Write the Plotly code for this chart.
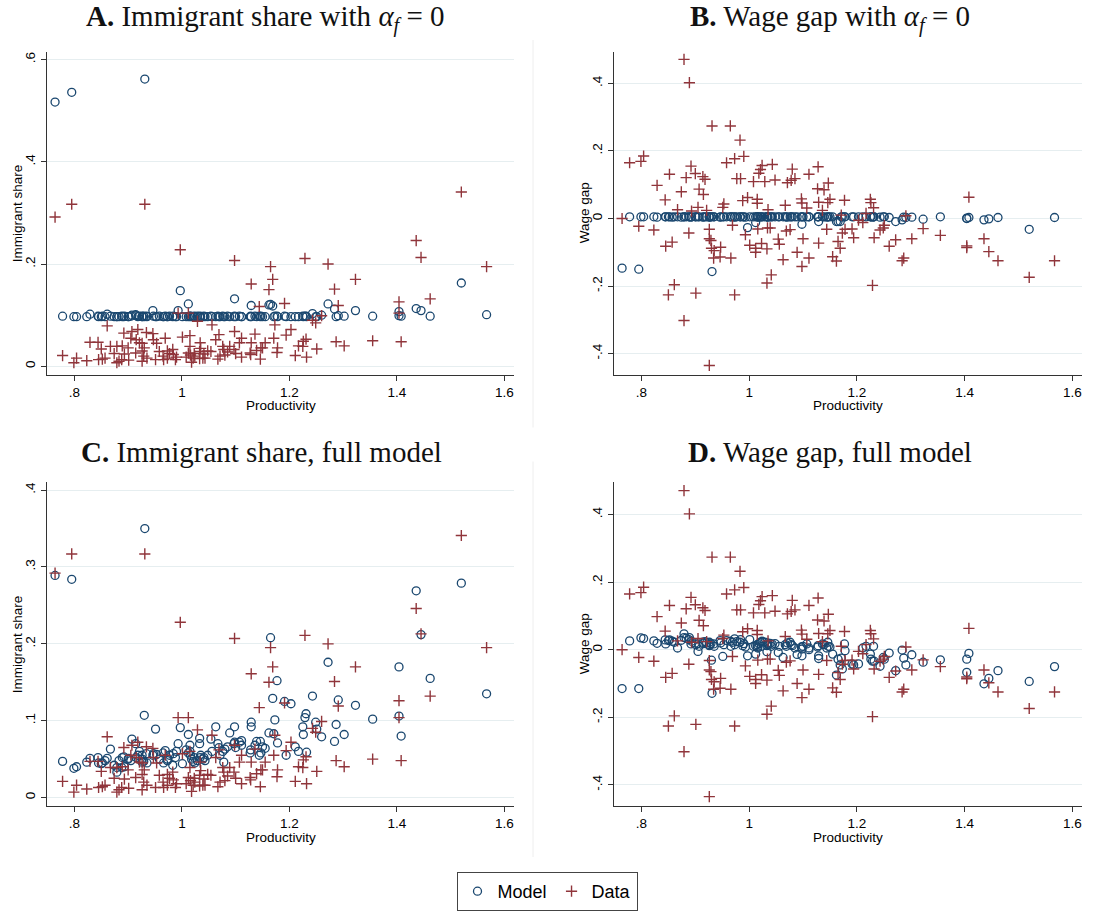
import plotly.graph_objects as go

# ---------------- data (one entry per region) ----------------
productivity = [
    0.764, 0.778, 0.795, 0.799, 0.804, 0.823, 0.829, 0.844, 0.845, 0.850,
    0.852, 0.857, 0.861, 0.867, 0.874, 0.879, 0.879, 0.883, 0.888, 0.889,
    0.892, 0.893, 0.900, 0.901, 0.905, 0.907, 0.914, 0.915, 0.918, 0.921,
    0.926, 0.926, 0.926, 0.929, 0.930, 0.931, 0.934, 0.935, 0.946, 0.947,
    0.951, 0.953, 0.958, 0.965, 0.966, 0.969, 0.973, 0.973, 0.977, 0.983,
    0.984, 0.988, 0.990, 0.993, 0.997, 1.001, 1.008, 1.012, 1.012, 1.015,
    1.015, 1.016, 1.018, 1.021, 1.023, 1.024, 1.029, 1.033, 1.033, 1.034,
    1.035, 1.039, 1.041, 1.043, 1.048, 1.054, 1.056, 1.063, 1.067, 1.069,
    1.071, 1.076, 1.078, 1.080, 1.085, 1.089, 1.097, 1.098, 1.098, 1.100,
    1.107, 1.111, 1.111, 1.127, 1.128, 1.129, 1.129, 1.136, 1.139, 1.144,
    1.146, 1.147, 1.150, 1.155, 1.162, 1.165, 1.169, 1.171, 1.173, 1.177,
    1.178, 1.191, 1.194, 1.203, 1.211, 1.217, 1.225, 1.226, 1.229, 1.231,
    1.232, 1.243, 1.249, 1.251, 1.260, 1.272, 1.284, 1.287, 1.291, 1.302,
    1.323, 1.355, 1.404, 1.404, 1.408, 1.436, 1.445, 1.462, 1.520, 1.567,
]

gap_data = [
    0.000, 0.165, -0.023, 0.169, 0.185, -0.034, 0.098, 0.055, -0.082, -0.226,
    0.131, -0.070, -0.196, 0.026, 0.079, 0.471, -0.302, 0.121, -0.043, 0.402,
    0.155, 0.022, 0.133, -0.221, 0.033, 0.087, 0.124, 0.071, 0.116, 0.024,
    -0.032, -0.060, -0.435, -0.065, -0.088, 0.274, -0.117, -0.095, -0.114, -0.085,
    0.033, 0.043, 0.165, 0.274, -0.117, -0.020, 0.177, -0.226, 0.118, 0.232,
    0.118, 0.053, 0.184, -0.048, 0.062, -0.079, 0.109, -0.088, -0.100, 0.057,
    0.045, -0.031, 0.134, 0.145, -0.074, 0.157, 0.109, -0.090, -0.191, -0.028,
    0.026, -0.028, -0.167, 0.160, 0.114, -0.061, -0.076, -0.122, 0.039, -0.037,
    0.106, -0.033, 0.113, 0.146, 0.118, -0.100, 0.058, 0.046, -0.142, -0.060,
    0.031, 0.131, -0.117, 0.088, 0.153, 0.048, -0.073, 0.024, 0.085, -0.032,
    0.047, 0.105, 0.057, -0.113, -0.126, -0.068, -0.088, 0.010, -0.043, 0.054,
    -0.032, -0.031, -0.057, -0.005, -0.012, 0.015, 0.057, 0.047, -0.198, 0.032,
    -0.057, -0.034, -0.028, -0.020, -0.082, -0.063, -0.125, -0.117, 0.008, -0.060,
    -0.030, -0.050, -0.081, -0.086, 0.063, -0.060, -0.098, -0.125, -0.174, -0.125,
]

share_data = [
    0.292, 0.021, 0.317, 0.007, 0.016, 0.011, 0.047, 0.047, 0.013, 0.034,
    0.014, 0.016, 0.079, 0.039, 0.025, 0.039, 0.007, 0.010, 0.013, 0.040,
    0.065, 0.024, 0.036, 0.012, 0.055, 0.068, 0.026, 0.052, 0.072, 0.046,
    0.045, 0.010, 0.030, 0.020, 0.036, 0.317, 0.066, 0.016, 0.064, 0.052,
    0.013, 0.045, 0.029, 0.020, 0.013, 0.055, 0.030, 0.016, 0.025, 0.033,
    0.023, 0.013, 0.018, 0.104, 0.228, 0.057, 0.018, 0.104, 0.026, 0.039,
    0.060, 0.022, 0.008, 0.016, 0.025, 0.020, 0.088, 0.029, 0.015, 0.046,
    0.035, 0.016, 0.024, 0.016, 0.030, 0.029, 0.081, 0.052, 0.014, 0.062,
    0.020, 0.039, 0.033, 0.022, 0.028, 0.039, 0.033, 0.068, 0.207, 0.025,
    0.046, 0.018, 0.055, 0.026, 0.023, 0.046, 0.161, 0.063, 0.031, 0.117,
    0.014, 0.036, 0.036, 0.046, 0.150, 0.195, 0.170, 0.055, 0.081, 0.027,
    0.036, 0.123, 0.061, 0.072, 0.021, 0.040, 0.039, 0.049, 0.211, 0.053,
    0.018, 0.090, 0.085, 0.034, 0.099, 0.200, 0.151, 0.048, 0.119, 0.040,
    0.170, 0.050, 0.126, 0.104, 0.048, 0.246, 0.213, 0.132, 0.341, 0.195,
]

share_model_a0 = [
    0.517, 0.098, 0.536, 0.097, 0.097, 0.097, 0.102, 0.098, 0.097, 0.097,
    0.098, 0.097, 0.102, 0.098, 0.097, 0.097, 0.097, 0.097, 0.098, 0.097,
    0.097, 0.098, 0.097, 0.097, 0.098, 0.100, 0.101, 0.099, 0.097, 0.098,
    0.098, 0.097, 0.097, 0.098, 0.097, 0.562, 0.098, 0.097, 0.109, 0.098,
    0.097, 0.097, 0.098, 0.097, 0.097, 0.098, 0.097, 0.097, 0.098, 0.097,
    0.098, 0.097, 0.097, 0.109, 0.148, 0.097, 0.097, 0.122, 0.097, 0.098,
    0.097, 0.098, 0.097, 0.097, 0.098, 0.097, 0.098, 0.097, 0.097, 0.098,
    0.097, 0.097, 0.098, 0.097, 0.097, 0.098, 0.097, 0.097, 0.098, 0.097,
    0.097, 0.098, 0.097, 0.097, 0.098, 0.097, 0.097, 0.098, 0.132, 0.097,
    0.098, 0.097, 0.097, 0.097, 0.098, 0.097, 0.119, 0.098, 0.097, 0.098,
    0.097, 0.098, 0.097, 0.097, 0.120, 0.121, 0.118, 0.097, 0.098, 0.098,
    0.097, 0.098, 0.097, 0.097, 0.097, 0.097, 0.098, 0.097, 0.098, 0.098,
    0.097, 0.103, 0.097, 0.097, 0.100, 0.122, 0.112, 0.097, 0.099, 0.098,
    0.109, 0.098, 0.107, 0.099, 0.098, 0.113, 0.109, 0.098, 0.163, 0.101,
]

gap_model_a0 = [
    -0.147, 0.005, -0.150, 0.005, 0.005, 0.005, 0.004, 0.005, 0.005, 0.005,
    0.005, 0.004, 0.005, 0.005, 0.004, 0.005, 0.005, 0.005, 0.005, 0.005,
    0.004, 0.005, 0.005, 0.005, 0.005, 0.005, 0.004, 0.005, 0.005, 0.005,
    0.005, 0.004, 0.005, 0.005, 0.005, -0.157, 0.005, 0.005, 0.004, 0.005,
    0.005, 0.005, 0.005, 0.005, 0.005, 0.005, 0.004, 0.005, 0.005, 0.005,
    0.005, 0.005, 0.005, 0.004, -0.027, 0.005, 0.005, -0.012, 0.005, 0.005,
    0.005, 0.005, 0.004, 0.005, 0.005, 0.005, 0.005, 0.005, 0.005, 0.005,
    0.004, 0.005, 0.005, 0.005, 0.005, 0.005, 0.005, 0.005, 0.005, 0.005,
    0.004, 0.005, 0.005, 0.005, 0.005, 0.005, 0.005, 0.005, -0.017, 0.005,
    0.005, 0.005, 0.005, 0.005, 0.005, 0.005, -0.009, 0.005, 0.005, 0.004,
    0.005, 0.005, 0.005, 0.005, -0.009, -0.009, -0.009, 0.005, 0.005, 0.005,
    0.005, 0.005, 0.005, 0.005, 0.005, 0.005, 0.005, 0.005, 0.004, 0.005,
    0.005, 0.004, 0.005, 0.005, 0.003, -0.009, -0.004, 0.004, 0.003, 0.004,
    -0.002, 0.005, 0.001, 0.000, 0.003, -0.004, -0.001, 0.003, -0.032, 0.003,
]

share_model_full = [
    0.289, 0.047, 0.284, 0.038, 0.040, 0.046, 0.051, 0.052, 0.045, 0.044,
    0.045, 0.048, 0.051, 0.063, 0.042, 0.033, 0.039, 0.048, 0.039, 0.052,
    0.053, 0.040, 0.050, 0.051, 0.048, 0.076, 0.070, 0.052, 0.055, 0.060,
    0.050, 0.046, 0.055, 0.047, 0.107, 0.350, 0.057, 0.045, 0.055, 0.057,
    0.089, 0.056, 0.050, 0.058, 0.045, 0.061, 0.050, 0.048, 0.055, 0.042,
    0.057, 0.052, 0.060, 0.070, 0.091, 0.044, 0.062, 0.082, 0.058, 0.068,
    0.060, 0.055, 0.050, 0.047, 0.052, 0.045, 0.048, 0.077, 0.070, 0.052,
    0.055, 0.050, 0.052, 0.048, 0.055, 0.076, 0.060, 0.092, 0.070, 0.065,
    0.055, 0.060, 0.046, 0.063, 0.066, 0.084, 0.070, 0.072, 0.092, 0.065,
    0.072, 0.074, 0.068, 0.058, 0.062, 0.098, 0.092, 0.068, 0.073, 0.055,
    0.073, 0.058, 0.066, 0.064, 0.084, 0.208, 0.129, 0.083, 0.101, 0.152,
    0.071, 0.125, 0.055, 0.122, 0.066, 0.060, 0.092, 0.082, 0.104, 0.109,
    0.059, 0.132, 0.098, 0.089, 0.079, 0.176, 0.073, 0.095, 0.127, 0.082,
    0.120, 0.102, 0.170, 0.106, 0.080, 0.269, 0.212, 0.155, 0.279, 0.135,
]

gap_model_full = [
    -0.115, 0.026, -0.115, 0.035, 0.033, 0.026, 0.019, 0.029, 0.017, 0.027,
    0.029, 0.025, 0.022, 0.005, 0.028, 0.047, 0.036, 0.034, 0.030, 0.036,
    0.017, 0.025, 0.020, 0.015, -0.005, 0.010, 0.022, 0.018, 0.024, 0.020,
    0.015, 0.012, 0.022, 0.018, -0.031, -0.129, 0.017, 0.010, 0.027, 0.020,
    -0.020, 0.015, 0.027, 0.025, 0.010, 0.022, 0.032, 0.015, 0.024, 0.022,
    0.030, 0.012, 0.018, 0.008, -0.018, 0.030, 0.010, -0.013, 0.012, 0.008,
    0.015, 0.005, 0.018, 0.022, 0.010, 0.025, 0.022, -0.006, 0.012, 0.020,
    0.015, 0.019, 0.010, 0.016, 0.018, -0.008, 0.010, -0.023, 0.015, 0.010,
    0.020, 0.022, 0.015, 0.012, 0.005, -0.014, 0.008, 0.002, -0.018, 0.010,
    0.017, 0.005, 0.000, 0.008, 0.012, -0.026, -0.018, 0.017, 0.015, 0.005,
    0.022, 0.010, 0.008, -0.013, -0.075, -0.028, -0.045, -0.025, -0.057, 0.017,
    -0.003, -0.042, -0.045, -0.042, 0.005, 0.010, -0.013, -0.028, -0.034, 0.010,
    -0.034, -0.049, -0.023, -0.028, -0.010, -0.062, -0.001, -0.025, -0.045, -0.015,
    -0.037, -0.030, -0.028, -0.067, -0.011, -0.101, -0.085, -0.062, -0.094, -0.050,
]

# tick labels
x_tickvals = [0.8, 1.0, 1.2, 1.4, 1.6]
x_ticktext = [".8", "1", "1.2", "1.4", "1.6"]
share_a_tickvals = [0, 0.2, 0.4, 0.6]
share_a_ticktext = ["0", ".2", ".4", ".6"]
share_c_tickvals = [0, 0.1, 0.2, 0.3, 0.4]
share_c_ticktext = ["0", ".1", ".2", ".3", ".4"]
gap_tickvals = [-0.4, -0.2, 0, 0.2, 0.4]
gap_ticktext = ["-.4", "-.2", "0", ".2", ".4"]

panel_titles = [
    "<b>A.</b> Immigrant share with <i>α<sub>f</sub></i> = 0",
    "<b>B.</b> Wage gap with <i>α<sub>f</sub></i> = 0",
    "<b>C.</b> Immigrant share, full model",
    "<b>D.</b> Wage gap, full model",
]

# ---------------- styling ----------------
W, H = 1095, 911
NAVY = "#1a476f"
MAROON = "#90353b"
AXIS_C = "#333333"
GRID_C = "#e6eef0"
SANS = "Liberation Sans, Arial, sans-serif"
SERIF = "Liberation Serif, Times New Roman, serif"


def px_x(p):
    return p / W


def px_y(p):
    return 1 - p / H


left_cols = (47, 514)
right_cols = (614, 1082)
top_rows = (52, 375)
bot_rows = (483, 807)
x_range = [0.749, 1.618]

panels = [
    dict(cols=left_cols, rows=top_rows, model=share_model_a0, data=share_data,
         tv=share_a_tickvals, tt=share_a_ticktext, yr=[-0.0162, 0.615],
         ytitle="Immigrant share"),
    dict(cols=right_cols, rows=top_rows, model=gap_model_a0, data=gap_data,
         tv=gap_tickvals, tt=gap_ticktext, yr=[-0.462, 0.493],
         ytitle="Wage gap"),
    dict(cols=left_cols, rows=bot_rows, model=share_model_full, data=share_data,
         tv=share_c_tickvals, tt=share_c_ticktext, yr=[-0.0112, 0.410],
         ytitle="Immigrant share"),
    dict(cols=right_cols, rows=bot_rows, model=gap_model_full, data=gap_data,
         tv=gap_tickvals, tt=gap_ticktext, yr=[-0.463, 0.495],
         ytitle="Wage gap"),
]

fig = go.Figure()
layout = dict(
    width=W, height=H,
    margin=dict(l=0, r=0, t=0, b=0),
    paper_bgcolor="white", plot_bgcolor="white",
    showlegend=True,
    legend=dict(
        orientation="h", x=px_x(547), xanchor="center", y=px_y(873), yanchor="top",
        bordercolor="#444444", borderwidth=1, bgcolor="white",
        font=dict(family=SANS, size=18, color="black"),
        itemsizing="trace", tracegroupgap=0,
    ),
)
annotations = []

for i, p in enumerate(panels):
    n = i + 1
    xa = "xaxis" if n == 1 else f"xaxis{n}"
    ya = "yaxis" if n == 1 else f"yaxis{n}"
    xref = "x" if n == 1 else f"x{n}"
    yref = "y" if n == 1 else f"y{n}"
    fig.add_trace(go.Scatter(
        x=productivity, y=p["model"], mode="markers", name="Model",
        xaxis=xref, yaxis=yref, showlegend=(n == 1),
        marker=dict(symbol="circle-open", size=8, color=NAVY,
                    line=dict(color=NAVY, width=1.3)),
    ))
    fig.add_trace(go.Scatter(
        x=productivity, y=p["data"], mode="markers", name="Data",
        xaxis=xref, yaxis=yref, showlegend=(n == 1),
        marker=dict(symbol="cross-thin", size=8, color=MAROON,
                    line=dict(color=MAROON, width=1.4)),
    ))
    layout[xa] = dict(
        domain=[px_x(p["cols"][0]), px_x(p["cols"][1])], anchor=yref,
        range=x_range, showgrid=False, zeroline=False,
        showline=True, linecolor=AXIS_C, linewidth=1.3,
        ticks="outside", ticklen=5, tickwidth=1.2, tickcolor=AXIS_C,
        tickvals=x_tickvals, ticktext=x_ticktext,
        tickfont=dict(family=SANS, size=13.5, color="black"),
    )
    layout[ya] = dict(
        domain=[px_y(p["rows"][1]), px_y(p["rows"][0])], anchor=xref,
        range=p["yr"], showgrid=True, gridcolor=GRID_C, gridwidth=1.2,
        zeroline=False, showline=True, linecolor=AXIS_C, linewidth=1.3,
        ticks="outside", ticklen=5, tickwidth=1.2, tickcolor=AXIS_C,
        tickvals=p["tv"], ticktext=p["tt"], tickangle=-90,
        tickfont=dict(family=SANS, size=13.5, color="black"),
    )
    cx = (p["cols"][0] + p["cols"][1]) / 2
    cy = (p["rows"][0] + p["rows"][1]) / 2
    # x-axis title
    annotations.append(dict(
        text="Productivity", xref="paper", yref="paper",
        x=px_x(cx), y=px_y(p["rows"][1] + 31), xanchor="center", yanchor="middle",
        showarrow=False, font=dict(family=SANS, size=13.5, color="black"),
    ))
    # y-axis title
    annotations.append(dict(
        text=p["ytitle"], xref="paper", yref="paper", textangle=-90,
        x=px_x(p["cols"][0] - 30), y=px_y(cy), xanchor="center", yanchor="middle",
        showarrow=False, font=dict(family=SANS, size=13.5, color="black"),
    ))

title_pos = [(265, 19), (830, 19), (261, 452), (830, 452)]
for t, (tx, ty) in zip(panel_titles, title_pos):
    annotations.append(dict(
        text=t, xref="paper", yref="paper", x=px_x(tx), y=px_y(ty),
        xanchor="center", yanchor="middle", showarrow=False,
        font=dict(family=SERIF, size=29, color="#111111"),
    ))

layout["annotations"] = annotations
layout["shapes"] = [
    dict(type="line", xref="paper", yref="paper", x0=px_x(533), x1=px_x(533),
         y0=px_y(40), y1=px_y(428), line=dict(color="#eeeeee", width=1)),
    dict(type="line", xref="paper", yref="paper", x0=px_x(533), x1=px_x(533),
         y0=px_y(462), y1=px_y(858), line=dict(color="#eeeeee", width=1)),
]
fig.update_layout(**layout)

fig.write_html(
    "out.html",
    config={"displayModeBar": False},
    post_script="document.body.style.margin='0';document.body.style.overflow='hidden';",
)
